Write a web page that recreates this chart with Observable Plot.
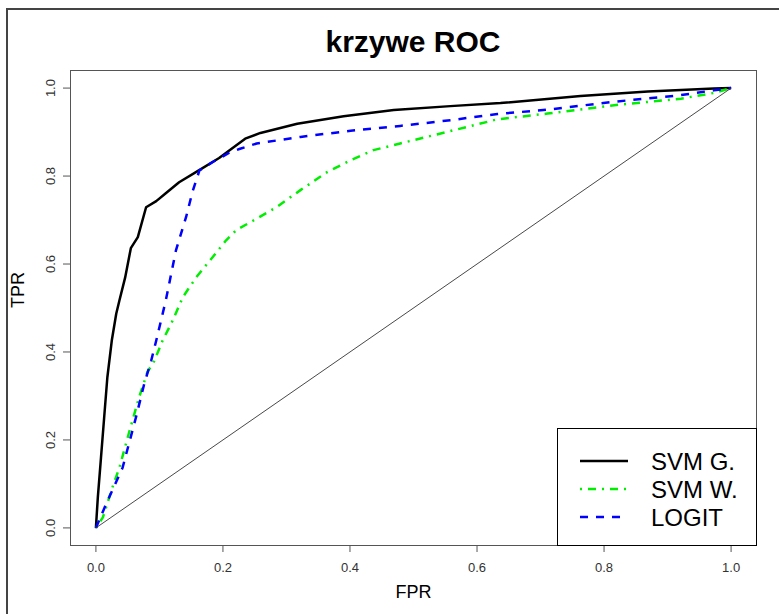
<!DOCTYPE html>
<html>
<head>
<meta charset="utf-8">
<script src="https://cdn.jsdelivr.net/npm/d3@7"></script>
<script src="https://cdn.jsdelivr.net/npm/@observablehq/plot@0.6"></script>
<style>
  html, body { margin: 0; padding: 0; width: 779px; height: 614px; overflow: hidden; background: #fff; }
  #wrap { position: relative; width: 779px; height: 614px; font-family: "Liberation Sans", Arial, sans-serif; }
  #border { position: absolute; left: 6px; top: 8px; width: 800px; height: 700px; border-top: 2px solid #444; border-left: 2px solid #444; pointer-events: none; }
  #title { position: absolute; left: 70px; width: 686px; top: 26px; text-align: center; font-size: 30px; line-height: 32px; font-weight: bold; color: #000; }
  #chart { position: absolute; left: 0; top: 0; }
  #legend { position: absolute; left: 557px; top: 428px; }
</style>
</head>
<body>
<div id="wrap">
  <div id="chart"></div>
  <div id="border"></div>
  <div id="title">krzywe ROC</div>
  <div id="legend"></div>
</div>
<script>
// ---- data ----
const fprSvmG = [0, 0.003, 0.008, 0.013, 0.018, 0.025, 0.032, 0.037, 0.046, 0.055, 0.066, 0.079, 0.095, 0.110, 0.131, 0.162, 0.194, 0.211, 0.235, 0.259, 0.317, 0.390, 0.469, 0.558, 0.637, 0.763, 0.869, 0.973, 1];
const tprSvmG = [0, 0.069, 0.160, 0.251, 0.342, 0.426, 0.487, 0.517, 0.569, 0.636, 0.661, 0.729, 0.743, 0.761, 0.786, 0.813, 0.841, 0.859, 0.885, 0.898, 0.919, 0.936, 0.950, 0.959, 0.966, 0.982, 0.992, 0.999, 1];

const fprSvmW = [0, 0.011, 0.026, 0.037, 0.053, 0.068, 0.081, 0.092, 0.105, 0.121, 0.137, 0.158, 0.184, 0.205, 0.221, 0.248, 0.285, 0.322, 0.364, 0.401, 0.437, 0.479, 0.532, 0.585, 0.632, 0.711, 0.816, 0.921, 0.973, 1];
const tprSvmW = [0, 0.024, 0.092, 0.137, 0.221, 0.297, 0.354, 0.380, 0.426, 0.472, 0.525, 0.570, 0.616, 0.654, 0.677, 0.699, 0.730, 0.768, 0.809, 0.836, 0.859, 0.874, 0.893, 0.912, 0.929, 0.942, 0.961, 0.976, 0.989, 1];

const fprLogit = [0, 0.016, 0.042, 0.063, 0.076, 0.087, 0.095, 0.110, 0.126, 0.142, 0.152, 0.163, 0.184, 0.210, 0.227, 0.253, 0.322, 0.401, 0.479, 0.558, 0.632, 0.711, 0.816, 0.921, 0.973, 1];
const tprLogit = [0, 0.054, 0.137, 0.251, 0.327, 0.380, 0.426, 0.517, 0.631, 0.707, 0.764, 0.813, 0.832, 0.853, 0.862, 0.874, 0.889, 0.903, 0.914, 0.927, 0.941, 0.951, 0.969, 0.984, 0.995, 1];

const diagFpr = [0, 1];
const diagTpr = [0, 1];

const ticks = [0, 0.2, 0.4, 0.6, 0.8, 1.0];
const tickLabels = ["0.0", "0.2", "0.4", "0.6", "0.8", "1.0"];

const seriesNames = ["SVM G.", "SVM W.", "LOGIT"];
const seriesColors = ["#000000", "#00ee00", "#0000ff"];
const seriesDash = [null, "2,6,8,6", "8,8"];

const title = "krzywe ROC";
const xLabel = "FPR";
const yLabel = "TPR";

// ---- build tables ----
const toRows = (xs, ys) => xs.map((x, i) => ({fpr: x, tpr: ys[i]}));
const series = [
  toRows(fprSvmG, tprSvmG),
  toRows(fprSvmW, tprSvmW),
  toRows(fprLogit, tprLogit)
];
const diag = toRows(diagFpr, diagTpr);
const fmt = d => tickLabels[ticks.indexOf(d)] ?? d3.format(".1f")(d);

const font = "Liberation Sans, Arial, sans-serif";

const plot = Plot.plot({
  width: 779,
  height: 614,
  marginLeft: 70,
  marginRight: 23,
  marginTop: 70,
  marginBottom: 69,
  style: {fontFamily: font, background: "transparent", overflow: "visible"},
  x: {domain: [-0.04, 1.04]},
  y: {domain: [-0.04, 1.04]},
  marks: [
    Plot.frame({stroke: "#555", strokeWidth: 1}),
    Plot.axisX(ticks, {tickSize: 7, tickPadding: 10, fontSize: 13, stroke: "#555", fill: "#333", tickFormat: fmt, label: null}),
    Plot.axisY(ticks, {tickSize: 7, tickPadding: 9, fontSize: 13, stroke: "#555", fill: "#333", tickFormat: fmt, tickRotate: -90, label: null}),
    Plot.text([xLabel], {frameAnchor: "bottom", dy: 52, fontSize: 18, fill: "#000", text: d => d}),
    Plot.text([yLabel], {frameAnchor: "left", dx: -52, rotate: -90, fontSize: 18, fill: "#000", text: d => d}),
    ...series.map((rows, i) => Plot.line(rows, {
      x: "fpr", y: "tpr",
      stroke: seriesColors[i], strokeWidth: 2.5,
      strokeDasharray: seriesDash[i] ?? undefined,
      strokeLinejoin: "round", strokeLinecap: "butt"
    })),
    Plot.line(diag, {x: "fpr", y: "tpr", stroke: "#333", strokeWidth: 0.9})
  ]
});
document.getElementById("chart").appendChild(plot);

// ---- legend (overlay) ----
const lw = 199, lh = 117;
const leg = d3.select("#legend").append("svg")
  .attr("width", lw + 1).attr("height", lh + 1)
  .style("font-family", font);
leg.append("rect").attr("x", 0.5).attr("y", 0.5).attr("width", lw).attr("height", lh)
  .attr("fill", "#fff").attr("stroke", "#000").attr("stroke-width", 1);
seriesNames.forEach((name, i) => {
  const cy = 33 + i * 28;
  leg.append("line").attr("x1", 23).attr("x2", 71).attr("y1", cy).attr("y2", cy)
    .attr("stroke", seriesColors[i]).attr("stroke-width", 2.5)
    .attr("stroke-dasharray", seriesDash[i]);
  leg.append("text").attr("x", 94).attr("y", cy).attr("dy", "0.36em")
    .attr("font-size", 24).attr("fill", "#000").text(name);
});
</script>
</body>
</html>
